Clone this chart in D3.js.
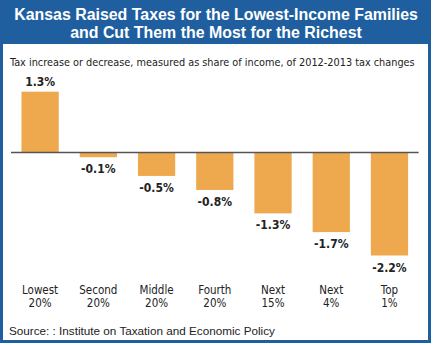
<!DOCTYPE html>
<html>
<head>
<meta charset="utf-8">
<script src="https://cdn.jsdelivr.net/npm/d3@7"></script>
<style>
  body { margin: 0; background: #fff; }
  svg { display: block; }
</style>
</head>
<body>
<svg width="433" height="345"></svg>
<script>
const categories = ["Lowest 20%", "Second 20%", "Middle 20%", "Fourth 20%", "Next 15%", "Next 4%", "Top 1%"];
const catLine1 = ["Lowest", "Second", "Middle", "Fourth", "Next", "Next", "Top"];
const catLine2 = ["20%", "20%", "20%", "20%", "15%", "4%", "1%"];
const values = [1.3, -0.1, -0.5, -0.8, -1.3, -1.7, -2.2];
const titleLines = ["Kansas Raised Taxes for the Lowest-Income Families", "and Cut Them the Most for the Richest"];
const subtitle = "Tax increase or decrease, measured as share of income, of 2012-2013 tax changes";
const source = "Source: : Institute on Taxation and Economic Policy";

const svg = d3.select("svg");
const blue = "#1f5f9f";
const orange = "#eea94f";
const narrow = "'DejaVu Sans Condensed', 'Liberation Sans Narrow', sans-serif";

// shrink or grow a text so it spans a given width
function fitWidth(sel, w) {
  sel.each(function() {
    const len = this.getComputedTextLength();
    const fs = parseFloat(this.getAttribute("font-size"));
    this.setAttribute("font-size", (fs * w / len).toFixed(2));
  });
}

// frame + header
svg.append("rect").attr("x", 1.5).attr("y", 1.5).attr("width", 428).attr("height", 340)
  .attr("fill", "#fff").attr("stroke", blue).attr("stroke-width", 3);
svg.append("rect").attr("x", 0).attr("y", 0).attr("width", 431).attr("height", 44).attr("fill", blue);

svg.selectAll(".title").data(titleLines).join("text")
  .attr("class", "title")
  .attr("x", 216).attr("y", (d, i) => 19.5 + i * 18.5)
  .attr("text-anchor", "middle")
  .attr("fill", "#fff")
  .attr("font-family", "'Liberation Sans', Arial, sans-serif")
  .attr("font-weight", "bold")
  .attr("font-size", 17)
  .text(d => d)
  .call(fitWidth, 404);

// keep second line same size as first
const tfs = svg.select(".title").attr("font-size");
svg.selectAll(".title").attr("font-size", tfs);

svg.append("text")
  .attr("x", 10).attr("y", 66)
  .attr("font-family", narrow)
  .attr("font-size", 12)
  .attr("fill", "#222")
  .text(subtitle)
  .call(fitWidth, 405);

const x = d3.scaleBand()
  .domain(categories)
  .range([11, 418.6])
  .paddingInner(0.36)
  .paddingOuter(0.18);

const y = d3.scaleLinear()
  .domain([-2.2, 1.3])
  .range([255.5, 91.7]);

const g = svg.append("g");

g.selectAll(".bar").data(values).join("rect")
  .attr("class", "bar")
  .attr("x", (d, i) => x(categories[i]))
  .attr("width", x.bandwidth())
  .attr("y", d => y(Math.max(0, d)))
  .attr("height", d => Math.abs(y(d) - y(0)))
  .attr("fill", orange);

g.append("line")
  .attr("x1", 11).attr("x2", 418.6)
  .attr("y1", y(0)).attr("y2", y(0))
  .attr("stroke", "#555").attr("stroke-width", 1.5);

g.selectAll(".val").data(values).join("text")
  .attr("class", "val")
  .attr("x", (d, i) => x(categories[i]) + x.bandwidth() / 2)
  .attr("y", d => d >= 0 ? y(d) - 6 : y(d) + 16)
  .attr("text-anchor", "middle")
  .attr("font-family", narrow)
  .attr("font-weight", "bold")
  .attr("font-size", 12)
  .attr("fill", "#222")
  .text(d => d.toFixed(1) + "%");

g.selectAll(".cat1").data(catLine1).join("text")
  .attr("class", "cat1")
  .attr("x", (d, i) => x(categories[i]) + x.bandwidth() / 2)
  .attr("y", 294)
  .attr("text-anchor", "middle")
  .attr("font-family", narrow)
  .attr("font-size", 11.5)
  .attr("fill", "#222")
  .text(d => d);

g.selectAll(".cat2").data(catLine2).join("text")
  .attr("class", "cat2")
  .attr("x", (d, i) => x(categories[i]) + x.bandwidth() / 2)
  .attr("y", 307)
  .attr("text-anchor", "middle")
  .attr("font-family", narrow)
  .attr("font-size", 11.5)
  .attr("fill", "#222")
  .text(d => d);

svg.append("text")
  .attr("x", 9).attr("y", 335)
  .attr("font-family", "'Liberation Sans', Arial, sans-serif")
  .attr("font-size", 11)
  .attr("fill", "#222")
  .text(source)
  .call(fitWidth, 266);
</script>
</body>
</html>
